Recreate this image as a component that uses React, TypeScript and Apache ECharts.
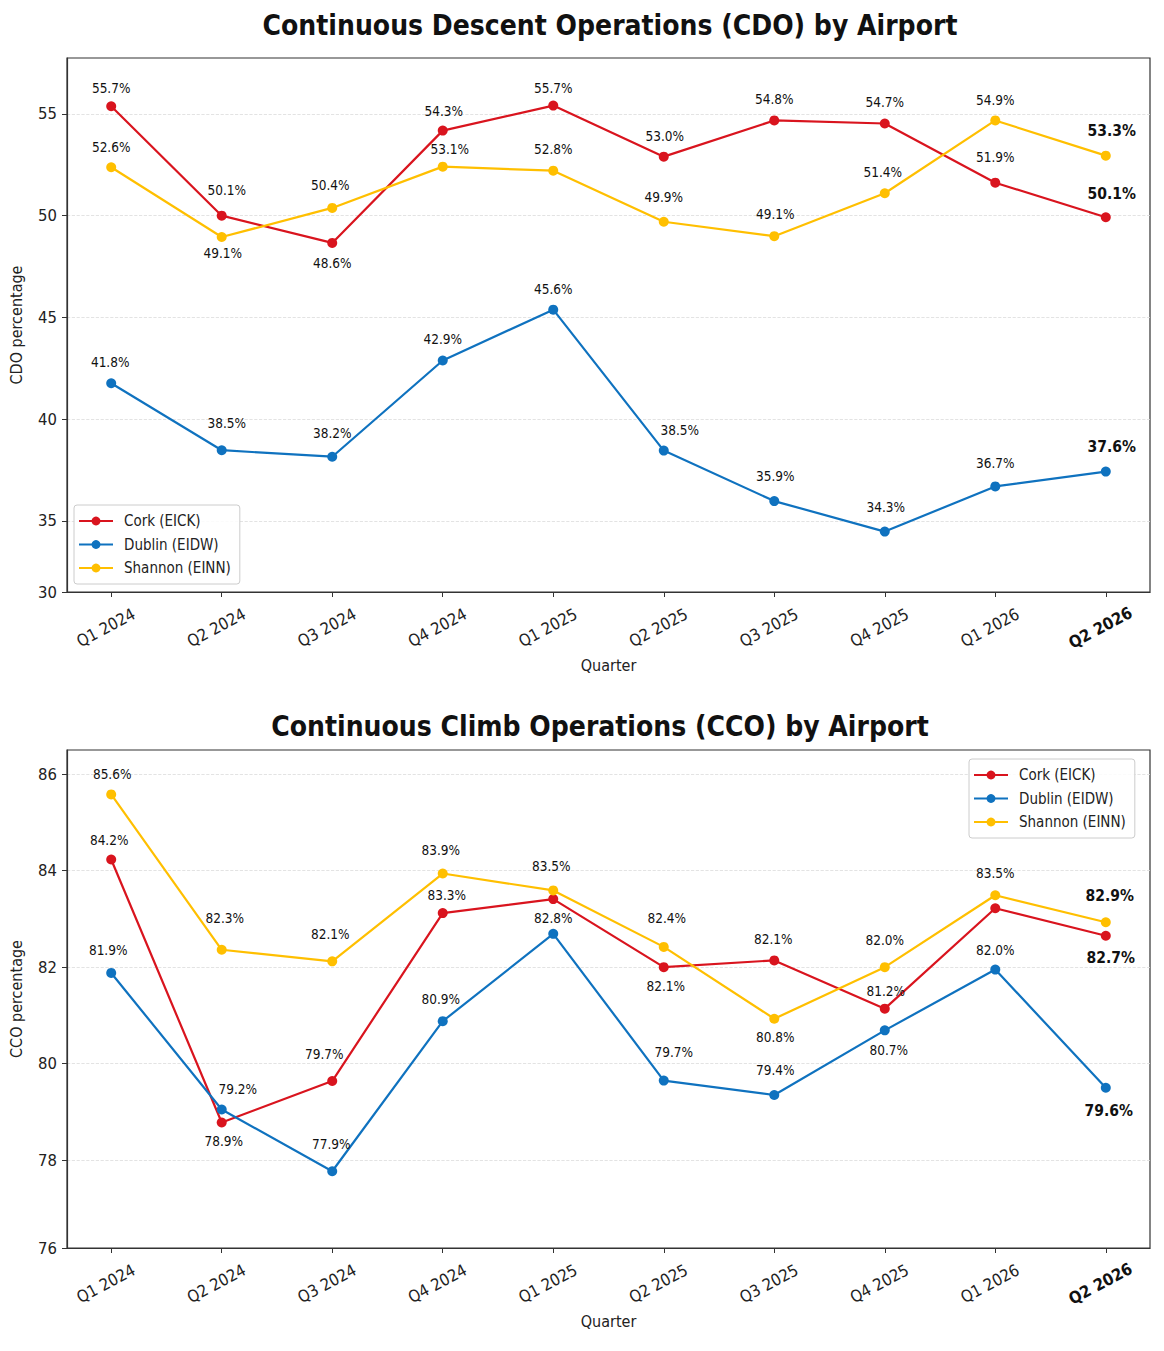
import React, { useEffect, useRef } from "react";
import * as echarts from "echarts";

const QUARTERS = ["Q1 2024", "Q2 2024", "Q3 2024", "Q4 2024", "Q1 2025", "Q2 2025", "Q3 2025", "Q4 2025", "Q1 2026", "Q2 2026"];
const SERIES_NAMES = ["Cork (EICK)", "Dublin (EIDW)", "Shannon (EINN)"];

// CDO plotted values
const CDO_CORK = [55.38, 50.0, 48.66, 54.18, 55.41, 52.9, 54.68, 54.53, 51.62, 49.92];
const CDO_DUBLIN = [41.76, 38.47, 38.15, 42.88, 45.38, 38.45, 35.97, 34.47, 36.69, 37.42];
const CDO_SHANNON = [52.38, 48.95, 50.38, 52.41, 52.21, 49.7, 48.99, 51.1, 54.68, 52.95];
// CDO printed labels
const CDO_CORK_TXT = ["55.7", "50.1", "48.6", "54.3", "55.7", "53.0", "54.8", "54.7", "51.9", "50.1"];
const CDO_DUBLIN_TXT = ["41.8", "38.5", "38.2", "42.9", "45.6", "38.5", "35.9", "34.3", "36.7", "37.6"];
const CDO_SHANNON_TXT = ["52.6", "49.1", "50.4", "53.1", "52.8", "49.9", "49.1", "51.4", "54.9", "53.3"];

// CCO plotted values
const CCO_CORK = [84.23, 78.78, 79.64, 83.12, 83.41, 82.0, 82.14, 81.14, 83.22, 82.65];
const CCO_DUBLIN = [81.88, 79.05, 77.77, 80.88, 82.69, 79.65, 79.35, 80.69, 81.95, 79.5];
const CCO_SHANNON = [85.58, 82.36, 82.12, 83.94, 83.59, 82.42, 80.93, 82.0, 83.49, 82.93];
// CCO printed labels
const CCO_CORK_TXT = ["84.2", "78.9", "79.7", "83.3", "", "82.1", "82.1", "81.2", "", "82.7"];
const CCO_DUBLIN_TXT = ["81.9", "79.2", "77.9", "80.9", "82.8", "79.7", "79.4", "80.7", "82.0", "79.6"];
const CCO_SHANNON_TXT = ["85.6", "82.3", "82.1", "83.9", "83.5", "82.4", "80.8", "82.0", "83.5", "82.9"];

// axis ticks
const CDO_Y_TICKS = [31.5, 35, 40, 45, 50, 55];
const CDO_Y_TICK_TXT = ["30", "35", "40", "45", "50", "55"];
const CCO_Y_TICKS = [76.18, 78, 80, 82, 84, 86];
const CCO_Y_TICK_TXT = ["76", "78", "80", "82", "84", "86"];

// label placement (style): [dx, dy] of label centre relative to point
const CDO_CORK_LBL = [[0, -18], [5, -26], [0, 20], [1, -20], [0, -18], [1, -21], [0, -21], [0, -22], [0, -26], [6, -23]];
const CDO_DUBLIN_LBL = [[-1, -21], [5, -27], [0, -24], [0, -21], [0, -21], [16, -21], [1, -25], [1, -25], [0, -23], [6, -25]];
const CDO_SHANNON_LBL = [[0, -20], [1, 16], [-2, -23], [7, -18], [0, -22], [0, -25], [1, -22], [-2, -21], [0, -20], [6, -25]];
const CCO_CORK_LBL = [[-2, -20], [2, 18], [-8, -27], [4, -18], [0, 0], [2, 19], [-1, -21], [1, -18], [0, 0], [5, 22]];
const CCO_DUBLIN_LBL = [[-3, -23], [16, -21], [-1, -27], [-2, -22], [0, -16], [10, -29], [1, -25], [4, 20], [0, -20], [3, 23]];
const CCO_SHANNON_LBL = [[1, -20], [3, -32], [-2, -27], [-2, -24], [-2, -24], [3, -29], [1, 18], [0, -27], [0, -22], [4, -26]];

const COLORS = ["#d9141e", "#0f72bf", "#ffbf00"];
const F = "'DejaVu Sans Condensed', 'DejaVu Sans', sans-serif";

function makeSeries(
  name: string,
  color: string,
  values: number[],
  texts: string[],
  offs: number[][],
  axisIdx: number
) {
  return {
    type: "line",
    name,
    xAxisIndex: axisIdx,
    yAxisIndex: axisIdx,
    symbol: "circle",
    symbolSize: 10,
    lineStyle: { width: 2.2, color },
    itemStyle: { color },
    label: {
      show: true,
      position: "inside",
      color: "#111",
      fontFamily: F,
      fontSize: 13.5,
    },
    emphasis: { disabled: true },
    data: values.map((v, i) => {
      const last = i === values.length - 1;
      return {
        value: [i, v],
        label: {
          show: texts[i] !== "",
          formatter: texts[i] !== "" ? texts[i] + "%" : "",
          offset: offs[i],
          fontWeight: last ? "bold" : "normal",
          fontSize: last ? 15.5 : 13.5,
        },
      };
    }),
  };
}

function xAxisCfg(gridIndex: number) {
  const idx = QUARTERS.map((_, i) => i);
  return {
    type: "value",
    gridIndex,
    min: -0.4,
    max: 9.4,
    name: "Quarter",
    nameLocation: "middle",
    nameGap: 65,
    nameTextStyle: { fontFamily: F, fontSize: 16, color: "#222" },
    axisLine: { show: true, onZero: false, lineStyle: { color: "#333", width: 1.2 } },
    axisTick: { show: true, length: 5, customValues: idx, lineStyle: { color: "#333" } },
    splitLine: { show: false },
    axisLabel: {
      customValues: idx,
      rotate: 28,
      align: "center",
      verticalAlign: "middle",
      margin: 33,
      padding: [0, 12, 0, 0],
      fontFamily: F,
      fontSize: 16.5,
      color: "#222",
      formatter: (v: number) => {
        const i = Math.round(v);
        const q = QUARTERS[i] ?? "";
        return i === QUARTERS.length - 1 ? "{b|" + q + "}" : q;
      },
      rich: { b: { fontWeight: "bold", fontFamily: F, fontSize: 16.5, color: "#111" } },
    },
  };
}

function yAxisCfg(gridIndex: number, name: string, min: number, max: number, ticks: number[], tickTxt: string[]) {
  return {
    type: "value",
    gridIndex,
    min,
    max,
    name,
    nameLocation: "middle",
    nameGap: 43,
    nameTextStyle: { fontFamily: F, fontSize: 16, color: "#222" },
    axisLine: { show: true, onZero: false, lineStyle: { color: "#333", width: 1.2 } },
    axisTick: { show: true, length: 5, customValues: ticks, lineStyle: { color: "#333" } },
    splitLine: { show: true, lineStyle: { type: "dashed", color: "#dcdcdc", width: 0.8 } },
    axisLabel: {
      customValues: ticks,
      margin: 10,
      fontFamily: F,
      fontSize: 16.5,
      color: "#222",
      formatter: (v: number) => {
        const k = ticks.findIndex((t) => Math.abs(t - v) < 1e-6);
        return k >= 0 ? tickTxt[k] : "";
      },
    },
  };
}

function legendCfg(left: number, top: number) {
  return {
    data: SERIES_NAMES,
    orient: "vertical",
    left,
    top,
    padding: [7, 9, 7, 4],
    itemWidth: 34,
    itemHeight: 11,
    itemGap: 5.5,
    backgroundColor: "rgba(255,255,255,0.85)",
    borderColor: "#cccccc",
    borderWidth: 1,
    borderRadius: 3,
    selectedMode: false,
    textStyle: { fontFamily: F, fontSize: 15, color: "#222", lineHeight: 18, padding: [0, 0, 0, 6] },
  };
}

export default function App() {
  const ref = useRef<HTMLDivElement>(null);
  useEffect(() => {
    document.body.style.margin = "0";
    if (!ref.current) return;
    const chart = echarts.init(ref.current, null, { renderer: "svg" });
    chart.setOption({
      animation: false,
      backgroundColor: "#ffffff",
      title: [
        {
          text: "Continuous Descent Operations (CDO) by Airport",
          left: 610,
          top: 11,
          textAlign: "center",
          padding: 0,
          textStyle: { fontFamily: F, fontSize: 28, fontWeight: "bold", color: "#111" },
        },
        {
          text: "Continuous Climb Operations (CCO) by Airport",
          left: 600,
          top: 712,
          textAlign: "center",
          padding: 0,
          textStyle: { fontFamily: F, fontSize: 28, fontWeight: "bold", color: "#111" },
        },
      ],
      legend: [legendCfg(74, 505), legendCfg(969, 759)],
      grid: [
        { left: 65, top: 58, width: 1085, height: 534, show: true, borderColor: "#333", borderWidth: 1.2, backgroundColor: "transparent" },
        { left: 65, top: 750, width: 1085, height: 498, show: true, borderColor: "#333", borderWidth: 1.2, backgroundColor: "transparent" },
      ],
      xAxis: [xAxisCfg(0), xAxisCfg(1)],
      yAxis: [
        yAxisCfg(0, "CDO percentage", 31.5, 57.75, CDO_Y_TICKS, CDO_Y_TICK_TXT),
        yAxisCfg(1, "CCO percentage", 76.18, 86.5, CCO_Y_TICKS, CCO_Y_TICK_TXT),
      ],
      series: [
        makeSeries(SERIES_NAMES[0], COLORS[0], CDO_CORK, CDO_CORK_TXT, CDO_CORK_LBL, 0),
        makeSeries(SERIES_NAMES[1], COLORS[1], CDO_DUBLIN, CDO_DUBLIN_TXT, CDO_DUBLIN_LBL, 0),
        makeSeries(SERIES_NAMES[2], COLORS[2], CDO_SHANNON, CDO_SHANNON_TXT, CDO_SHANNON_LBL, 0),
        makeSeries(SERIES_NAMES[0], COLORS[0], CCO_CORK, CCO_CORK_TXT, CCO_CORK_LBL, 1),
        makeSeries(SERIES_NAMES[1], COLORS[1], CCO_DUBLIN, CCO_DUBLIN_TXT, CCO_DUBLIN_LBL, 1),
        makeSeries(SERIES_NAMES[2], COLORS[2], CCO_SHANNON, CCO_SHANNON_TXT, CCO_SHANNON_LBL, 1),
      ],
    });
    return () => chart.dispose();
  }, []);
  return <div ref={ref} style={{ width: 1164, height: 1351 }} />;
}
